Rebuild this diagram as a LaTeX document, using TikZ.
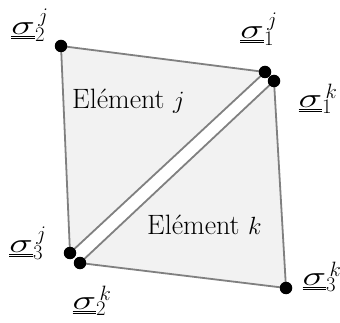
\documentclass[tikz,border=0pt]{standalone}
\usepackage{graphicx}
\newcommand{\sigl}[2]{\fontsize{28}{30}\selectfont$\underline{\underline{\scalebox{1.6}[1.1]{$\sigma$}}}^{\,#1}_{#2}$}
\definecolor{edgegray}{RGB}{128,128,128}
\definecolor{fillgray}{RGB}{242,242,242}
\tikzset{
  elem/.style={fill=fillgray, draw=edgegray, line width=1.8pt, line join=round},
  vtx/.style={circle, fill=black, inner sep=0pt, minimum size=12.5pt},
  lab/.style={inner sep=0pt},
  txt/.style={inner sep=0pt, font=\fontsize{28}{30}\selectfont}
}
\begin{document}
\begin{tikzpicture}[x=1pt,y=-1pt]
\useasboundingbox (0,0) rectangle (340,323);
% vertices
\coordinate (j2) at (61,46);
\coordinate (j1) at (265,72);
\coordinate (j3) at (70,253);
\coordinate (k1) at (274,81);
\coordinate (k3) at (286,288);
\coordinate (k2) at (80,263);
\draw[elem] (j2) -- (j1) -- (j3) -- cycle;
\draw[elem] (k1) -- (k3) -- (k2) -- cycle;
\foreach \p in {j1,j2,j3,k1,k2,k3} \node[vtx] (d\p) at (\p) {};
% labels
\node[txt, anchor=base west] (tj) at (72,109) {El\'ement $j$};
\node[txt, anchor=base west] (tk) at (147,235) {El\'ement $k$};
\node[lab] (lj2) at (30,25) {\sigl{j}{2}};
\node[lab] (lj1) at (259,29) {\sigl{j}{1}};
\node[lab] (lk1) at (318,99) {\sigl{k}{1}};
\node[lab] (lj3) at (28,243) {\sigl{j}{3}};
\node[lab] (lk2) at (92,301) {\sigl{k}{2}};
\node[lab] (lk3) at (322,277) {\sigl{k}{3}};
\end{tikzpicture}
\end{document}
